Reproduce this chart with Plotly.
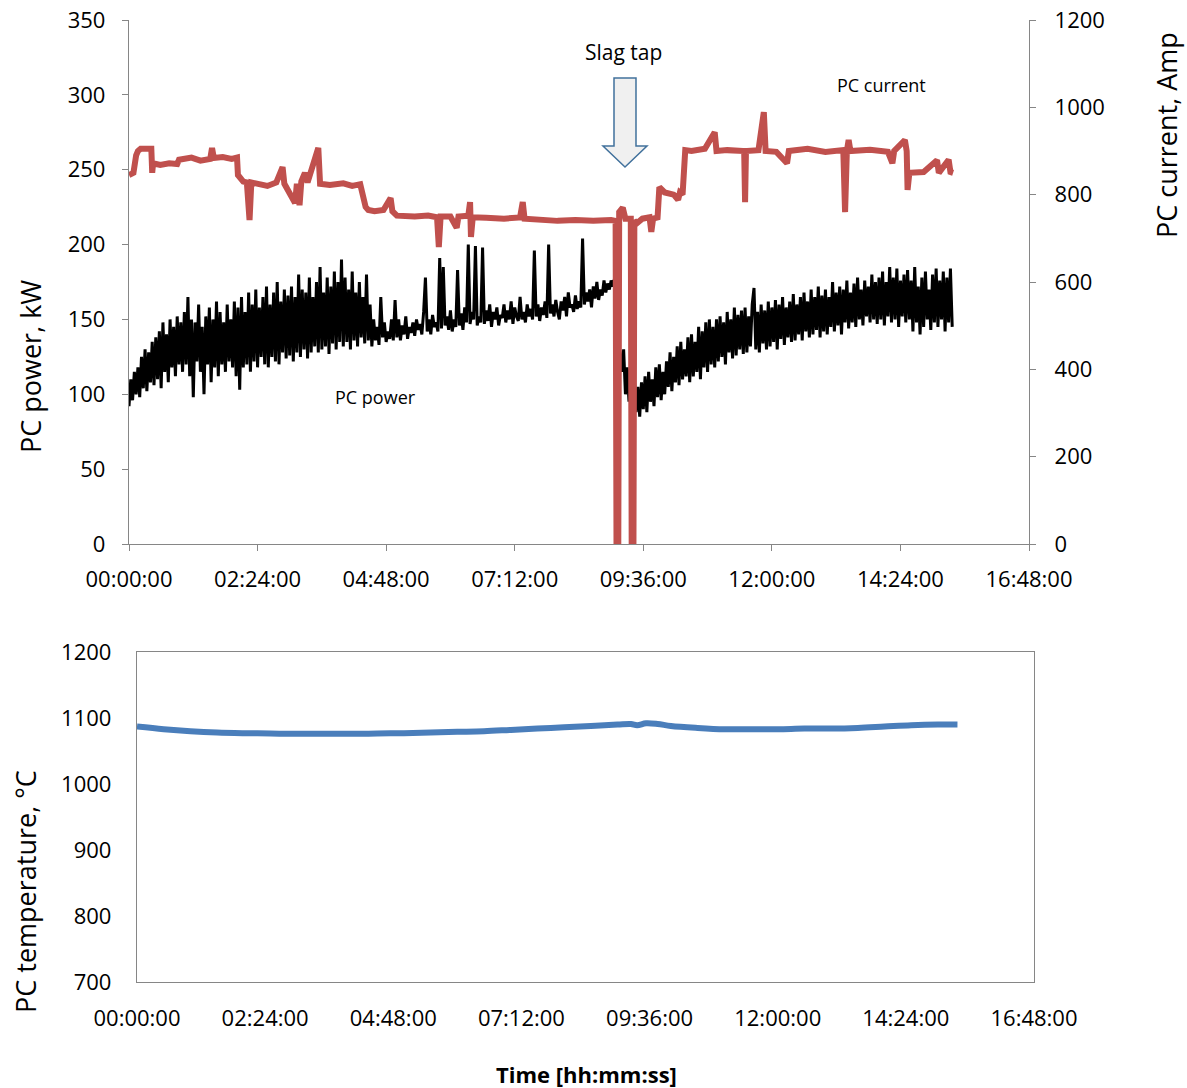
import plotly.graph_objects as go

# ---------------- data ----------------
# PC power (kW), sampled every 2 minutes from 00:00
power_kw = [
    92, 110, 96, 115, 100, 118, 98, 125, 104, 130, 102, 128, 108, 135, 106,
    138, 110, 142, 104, 148, 115, 140, 108, 150, 118, 145, 112, 152, 120, 148,
    115, 155, 120, 165, 112, 150, 98, 148, 122, 160, 115, 145, 100, 152, 120,
    158, 108, 150, 118, 162, 112, 155, 120, 148, 115, 160, 122, 150, 118, 162,
    112, 158, 103, 165, 118, 155, 120, 168, 115, 160, 122, 170, 118, 158, 125,
    165, 120, 172, 118, 160, 125, 168, 122, 175, 120, 162, 128, 170, 124, 166,
    126, 172, 122, 165, 128, 180, 125, 170, 130, 168, 124, 178, 128, 165, 132,
    175, 128, 185, 130, 168, 132, 178, 127, 172, 134, 182, 130, 175, 135, 190,
    132, 178, 135, 170, 130, 182, 136, 168, 132, 175, 138, 165, 134, 180, 136,
    160, 132, 150, 136, 145, 133, 165, 138, 148, 135, 142, 137, 150, 136, 163,
    138, 150, 136, 146, 140, 152, 137, 145, 141, 148, 139, 150, 143, 147, 140,
    155, 178, 142, 150, 140, 153, 145, 148, 142, 191, 144, 185, 146, 152, 143,
    156, 142, 150, 145, 183, 146, 154, 143, 158, 148, 200, 147, 155, 150, 199,
    146, 152, 148, 198, 147, 156, 149, 160, 145, 155, 150, 158, 146, 153, 151,
    160, 148, 156, 150, 162, 147, 158, 152, 149, 165, 150, 155, 148, 160, 152,
    157, 150, 196, 152, 160, 149, 158, 153, 162, 151, 200, 154, 160, 152, 163,
    155, 150, 162, 156, 165, 152, 168, 158, 160, 155, 166, 157, 162, 158, 204,
    160, 168, 162, 170, 158, 172, 164, 175, 163, 170, 166, 176, 168, 174, 170,
    176, 172, 178, 150, 135, 128, 115, 130, 100, 118, 95, 122, 92, 110, 88,
    105, 85, 108, 90, 112, 88, 115, 95, 110, 92, 118, 98, 120, 96, 115,
    100, 122, 105, 128, 102, 125, 108, 132, 106, 135, 110, 130, 112, 138, 108,
    140, 112, 135, 115, 145, 110, 142, 118, 148, 115, 150, 120, 145, 118, 150,
    122, 152, 125, 148, 120, 155, 128, 150, 124, 158, 126, 153, 130, 156, 127,
    158, 128, 152, 132, 160, 171, 130, 155, 128, 160, 134, 156, 130, 162, 132,
    158, 135, 163, 130, 160, 137, 165, 133, 158, 138, 162, 135, 167, 136, 160,
    140, 165, 136, 168, 142, 162, 138, 170, 140, 165, 143, 172, 138, 166, 142,
    170, 140, 165, 145, 175, 142, 168, 146, 172, 140, 170, 148, 176, 144, 168,
    148, 174, 145, 178, 150, 170, 146, 176, 152, 172, 148, 180, 150, 175, 147,
    178, 150, 182, 146, 175, 152, 185, 148, 178, 150, 184, 145, 176, 152, 180,
    148, 183, 150, 176, 142, 185, 148, 172, 140, 178, 145, 182, 150, 170, 143,
    180, 148, 184, 145, 176, 150, 182, 142, 178, 148, 184, 145,
]
power_t = [2 * i for i in range(len(power_kw))]

# PC current (Amp)
cur_t = [0, 5, 8, 10, 13, 20, 25, 26, 27, 35, 45, 54, 56, 70, 80, 91, 93, 95, 105, 115,
         121, 122, 126, 128, 132, 135, 137, 145, 155, 165, 172, 174, 186, 188, 191, 193,
         197, 200, 212, 214, 225, 240, 250, 259, 262, 265, 268, 275, 285, 293, 295, 300,
         320, 335, 345, 347, 349, 360, 367, 369, 380, 382, 383, 385, 400, 420, 438, 441,
         443, 460, 480, 500, 520, 540, 545, 546, 548, 549, 553, 556, 562, 563, 565, 566,
         569, 575, 583, 585, 587, 592, 594, 600, 610, 615, 617, 620, 623, 630, 645, 656,
         658, 670, 689, 690, 691, 705, 711, 713, 725, 737, 739, 760, 780, 800, 802, 804,
         806, 808, 830, 850, 855, 857, 869, 871, 872, 874, 890, 905, 907, 918, 920, 923]
cur_a = [845, 850, 890, 900, 905, 903, 905, 850, 872, 868, 872, 870, 880, 885, 878, 882, 907, 884, 886, 882,
         885, 845, 838, 830, 828, 742, 828, 825, 820, 828, 863, 825, 781, 825, 776, 830,
         850, 828, 907, 825, 822, 826, 820, 824, 790, 772, 765, 762, 765, 792, 762, 752,
         750, 752, 748, 680, 750, 750, 724, 750, 752, 783, 703, 748, 747, 745, 748, 783,
         745, 742, 740, 742, 740, 742, 740, 0, 0, 760, 770, 745, 745, 0, 0, 740,
         735, 745, 748, 715, 745, 748, 817, 805, 800, 788, 805, 800, 902, 900, 905, 943,
         900, 902, 900, 783, 900, 902, 989, 900, 898, 872, 900, 905, 898, 902, 760, 900,
         925, 900, 903, 898, 872, 900, 925, 900, 811, 850, 852, 879, 850, 880, 852, 850]

# PC temperature (°C)
temp_t = [0, 30, 60, 90, 120, 150, 180, 210, 240, 270, 300, 330, 360, 390, 420, 450, 480,
          510, 540, 555, 562, 572, 585, 600, 630, 660, 690, 720, 750, 780, 810, 840, 870, 900, 922]
temp_c = [1087, 1083, 1080, 1078, 1077, 1076.5, 1076, 1076, 1076, 1076.5, 1077, 1078, 1079,
          1080, 1082, 1084, 1086, 1088, 1090, 1091, 1089, 1092, 1091, 1088, 1085, 1083, 1083,
          1083, 1084, 1084, 1085, 1087, 1089, 1090, 1090]

tick_vals = [0, 144, 288, 432, 576, 720, 864, 1008]
tick_text = ["00:00:00", "02:24:00", "04:48:00", "07:12:00", "09:36:00", "12:00:00", "14:24:00", "16:48:00"]

# ---------------- layout helpers ----------------
W, H = 1187, 1088
FONT = "Open Sans"
AX = "#868686"


def fx(p):
    return p / W


def fy(p):
    return 1 - p / H


fig = go.Figure()
fig.add_trace(go.Scatter(x=power_t, y=power_kw, mode="lines",
                         line=dict(color="black", width=3), xaxis="x", yaxis="y"))
fig.add_trace(go.Scatter(x=cur_t, y=cur_a, mode="lines",
                         line=dict(color="#c0504d", width=6), xaxis="x", yaxis="y2"))
fig.add_trace(go.Scatter(x=temp_t, y=temp_c, mode="lines",
                         line=dict(color="#4a7ebb", width=6, shape="spline"), xaxis="x2", yaxis="y3"))

tickfont = dict(family=FONT, size=22, color="black")
common = dict(showgrid=False, zeroline=False, showline=True, linecolor=AX, linewidth=1.3,
              tickfont=tickfont, automargin=False, ticklabeloverflow="allow")

fig.update_layout(
    width=W, height=H,
    margin=dict(l=0, r=0, t=0, b=0, autoexpand=False),
    paper_bgcolor="white", plot_bgcolor="white",
    showlegend=False,
    xaxis=dict(domain=[fx(129), fx(1029)], range=[0, 1008], tickvals=tick_vals, ticktext=tick_text,
               ticks="outside", ticklen=6, tickcolor=AX, anchor="y", ticklabelstandoff=9, **common),
    yaxis=dict(domain=[fy(544), fy(20)], range=[0, 350], dtick=50, ticks="outside", ticklen=6,
               tickcolor=AX, anchor="x", ticklabelstandoff=12, **common),
    yaxis2=dict(overlaying="y", side="right", range=[0, 1200], dtick=200, ticks="outside",
                ticklen=6, tickcolor=AX, anchor="x", ticklabelstandoff=14, **common),
    xaxis2=dict(domain=[fx(137), fx(1034)], range=[0, 1008], tickvals=tick_vals, ticktext=tick_text,
                ticks="", anchor="y3", mirror=True, ticklabelstandoff=16, **common),
    yaxis3=dict(domain=[fy(982), fy(652)], range=[700, 1200], dtick=100, ticks="",
                anchor="x2", mirror=True, ticklabelstandoff=20, **common),
)

ann_font = dict(family=FONT, color="black")
annotations = [
    dict(text="PC power, kW", x=fx(30), y=fy(367), textangle=-90, font=dict(size=27, **ann_font)),
    dict(text="PC current, Amp", x=fx(1167), y=fy(135), textangle=-90, font=dict(size=27, **ann_font)),
    dict(text="PC temperature, °C", x=fx(25), y=fy(892), textangle=-90, font=dict(size=27, **ann_font)),
    dict(text="<b>Time [hh:mm:ss]</b>", x=fx(586), y=fy(1074), font=dict(size=22, **ann_font)),
    dict(text="Slag tap", x=fx(623), y=fy(52), font=dict(size=21, **ann_font)),
    dict(text="PC current", x=fx(881), y=fy(85), font=dict(size=18, **ann_font)),
    dict(text="PC power", x=fx(375), y=fy(397), font=dict(size=18, **ann_font)),
]
for a in annotations:
    a.update(xref="paper", yref="paper", showarrow=False, xanchor="center", yanchor="middle")
fig.update_layout(annotations=annotations)

# block arrow (layout decoration) in pixel positions
arrow_px = [(614, 78), (636, 78), (636, 146), (647, 146), (625, 167), (603, 146), (614, 146)]
path = "M " + " L ".join(f"{fx(x):.5f},{fy(y):.5f}" for x, y in arrow_px) + " Z"
fig.add_shape(type="path", path=path, xref="paper", yref="paper",
              fillcolor="#f0f0f0", line=dict(color="#41719c", width=1.5))

# remove the default 8px page margin so the figure fills the window exactly
fig.write_html("out.html", config={"displayModeBar": False},
               post_script="document.body.style.margin='0px';document.body.style.overflow='hidden';")
